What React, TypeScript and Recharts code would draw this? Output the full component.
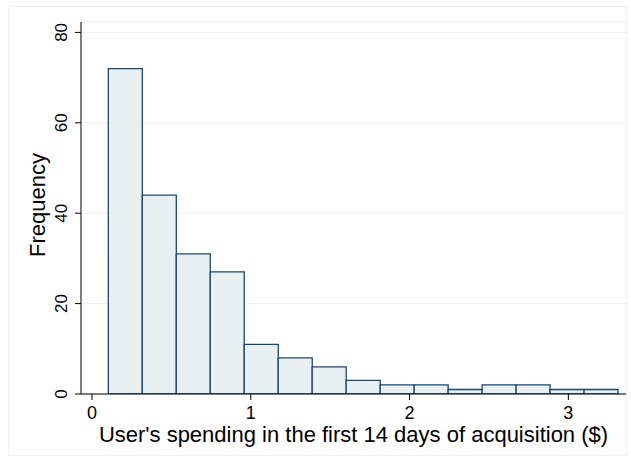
import { BarChart, Bar, XAxis, YAxis, CartesianGrid } from "recharts";

// histogram bins: counts
const binStart = 0.103;
const binWidth = 0.214;
const counts = [72, 44, 31, 27, 11, 8, 6, 3, 2, 2, 1, 2, 2, 1, 1];
const xTicks = [0, 1, 2, 3];
const yTicks = [0, 20, 40, 60, 80];
const xDomain: [number, number] = [-0.069, 3.363];
const yDomain: [number, number] = [0, 82.3];

const font = "'Liberation Sans', Arial, Helvetica, sans-serif";
const barFill = "#e9f0f2";
const barStroke = "#1a476f";

const W = 631;
const H = 461;
const margin = { top: 22, right: 5, left: 0, bottom: 1 };
const yAxisWidth = 81;
const plotWidth = W - margin.left - margin.right - yAxisWidth;

const rows = counts.map((count, i) => ({
  bin: i,
  mid: binStart + binWidth * (i + 0.5),
  count,
}));

// place the category bands so they line up with the numeric axis
const pxPerUnit = plotWidth / (xDomain[1] - xDomain[0]);
const padLeft = (binStart - xDomain[0]) * pxPerUnit;
const padRight = (xDomain[1] - (binStart + binWidth * counts.length)) * pxPerUnit;

const YTick = (props: any) => {
  const { x, y, payload } = props;
  const bx = x - 6;
  return (
    <text
      x={bx}
      y={y}
      transform={`rotate(-90, ${bx}, ${y})`}
      textAnchor="middle"
      fontSize={17}
      fontFamily={font}
      fill="#000"
    >
      {payload.value}
    </text>
  );
};

const YLabel = (props: any) => {
  const vb = props.viewBox || { x: 0, y: 22, width: 81, height: 372 };
  const cx = vb.x + 44.5;
  const cy = vb.y + vb.height / 2 - 3;
  return (
    <text
      x={cx}
      y={cy}
      transform={`rotate(-90, ${cx}, ${cy})`}
      textAnchor="middle"
      fontSize={22}
      fontFamily={font}
      fill="#000"
    >
      Frequency
    </text>
  );
};

const XLabel = (props: any) => {
  const vb = props.viewBox || { x: 81, y: 394, width: 545, height: 66 };
  return (
    <text
      x={vb.x + vb.width / 2}
      y={vb.y + 47.5}
      textAnchor="middle"
      fontSize={22}
      fontFamily={font}
      fill="#000"
    >
      User's spending in the first 14 days of acquisition ($)
    </text>
  );
};

export default function App() {
  return (
    <div style={{ position: "absolute", left: 0, top: 0, width: W, height: H, background: "#fff" }}>
      <div
        style={{
          position: "absolute",
          left: 8,
          top: 6,
          width: 617,
          height: 448,
          border: "1px solid #edf2f4",
        }}
      />
      <div style={{ position: "absolute", left: 0, top: 0 }}>
        <BarChart width={W} height={H} data={rows} margin={margin} barCategoryGap={0} barGap={0}>
          <CartesianGrid vertical={false} stroke="#e8eff2" strokeWidth={1} />
          <XAxis
            dataKey="bin"
            type="category"
            hide
            height={0}
            padding={{ left: padLeft, right: padRight }}
          />
          <XAxis
            xAxisId="num"
            dataKey="mid"
            type="number"
            domain={xDomain}
            allowDataOverflow
            ticks={xTicks}
            interval={0}
            height={66}
            tickSize={6}
            tickMargin={6}
            axisLine={{ stroke: "#000" }}
            tickLine={{ stroke: "#000" }}
            tick={{ fontSize: 18, fill: "#000", fontFamily: font }}
            label={<XLabel />}
          />
          <YAxis
            width={yAxisWidth}
            domain={yDomain}
            allowDataOverflow
            ticks={yTicks}
            interval={0}
            tickSize={6}
            axisLine={{ stroke: "#000" }}
            tickLine={{ stroke: "#000" }}
            tick={<YTick />}
            label={<YLabel />}
          />
          <Bar
            dataKey="count"
            fill={barFill}
            stroke={barStroke}
            strokeWidth={1.3}
            isAnimationActive={false}
          />
        </BarChart>
      </div>
    </div>
  );
}
